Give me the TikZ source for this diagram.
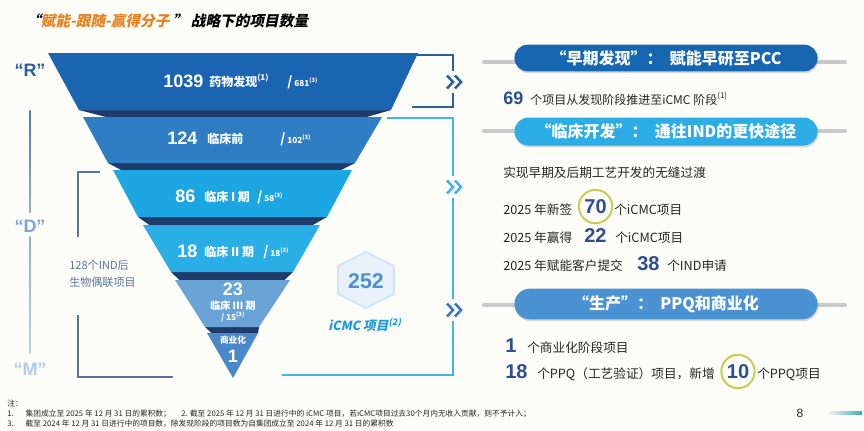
\documentclass[tikz,border=0pt]{standalone}
\usepackage{fontspec}
\setmainfont{Noto Sans CJK SC}
\newfontfamily\numfont{Liberation Sans}
\newfontfamily\slantfont[FakeSlant=0.2]{Noto Sans CJK SC}
\usetikzlibrary{shapes.misc,shadows}

\definecolor{bgpaper}{HTML}{FCFCF8}
\definecolor{layerA}{HTML}{1B64B2}
\definecolor{layerB}{HTML}{2F7EC4}
\definecolor{layerC}{HTML}{1CA6E2}
\definecolor{layerD}{HTML}{2AAEE6}
\definecolor{layerE}{HTML}{6AA3D5}
\definecolor{layerF}{HTML}{4A89C9}
\definecolor{foldnavy}{HTML}{1F3B6B}
\definecolor{bannerA}{HTML}{1766B2}
\definecolor{bannerB}{HTML}{2DADE6}
\definecolor{bannerC}{HTML}{4B92D2}
\definecolor{numblue}{HTML}{2F4E8E}
\definecolor{titleorange}{HTML}{E8801E}
\definecolor{ringolive}{HTML}{C6CF52}
\definecolor{brackgray}{HTML}{5E7696}
\definecolor{brackdark}{HTML}{2F5E9E}
\definecolor{brackcyan}{HTML}{45B5E2}
\definecolor{chevblue}{HTML}{3A76BF}
\definecolor{lineR}{HTML}{5577AA}
\definecolor{lineD}{HTML}{8FB0D8}
\definecolor{lineM}{HTML}{B5CFEB}
\definecolor{labD}{HTML}{7DA6D5}
\definecolor{labM}{HTML}{AFCBEA}
\definecolor{hexfill}{HTML}{E8F1FA}
\definecolor{hexline}{HTML}{D2E2F2}
\definecolor{hexnum}{HTML}{4C91CB}
\definecolor{icmccyan}{HTML}{1E9CD8}
\definecolor{textdark}{HTML}{262626}
\definecolor{railgray}{HTML}{C9C9C9}
\definecolor{logoteal}{HTML}{3FA9B5}

\newcommand{\fsz}[1]{\fontsize{#1}{#1}\selectfont}
% double chevron on a bracket: x, y, colour
\newcommand{\dblchev}[3]{%
  \fill[bgpaper] (#1-9,#2-11) rectangle (#1+10,#2+11);
  \draw[#3, line width=1.9pt] (#1-7,#2-6.5) -- (#1-1,#2) -- (#1-7,#2+6.5);
  \draw[#3, line width=1.9pt] (#1+1,#2-6.5) -- (#1+7,#2) -- (#1+1,#2+6.5);}

\tikzset{
  stagenum/.style={text=white, font=\numfont\bfseries\fsz{13.5}, inner sep=0pt, anchor=base west},
  stagelab/.style={text=white, font=\bfseries\fsz{9}, inner sep=0pt, anchor=base west},
  stageold/.style={text=white, font=\bfseries\fsz{6.2}, inner sep=0pt, anchor=base west},
  rdmtxt/.style={font=\numfont\bfseries\fsz{13.5}, inner sep=0pt, anchor=base},
  brackline/.style={brackgray, line width=1.1pt},
  banner/.style={rounded rectangle, minimum width=234pt, text=white, font=\bfseries\fsz{12},
    drop shadow={opacity=0.3, shadow xshift=0.6pt, shadow yshift=-1.4pt}},
  rail/.style={railgray, line width=3pt, line cap=round},
  bodytxt/.style={font=\fsz{9.5}, text=textdark, inner sep=0pt, anchor=base west},
  statnum/.style={font=\numfont\bfseries\fsz{15}, text=numblue, inner sep=0pt, anchor=base west},
  ringnum/.style={circle, draw=ringolive, line width=1.5pt, minimum size=25pt, inner sep=0pt,
    font=\numfont\bfseries\fsz{15}, text=numblue},
  notetxt/.style={font=\fsz{5.8}, text=textdark, inner sep=0pt, anchor=base west}
}

\begin{document}
\begin{tikzpicture}[x=0.75pt,y=0.75pt,yscale=-1,xscale=1]

\useasboundingbox (0,0) rectangle (864,430);
\fill[bgpaper] (0,0) rectangle (864,430);

% title
\node[font=\slantfont\bfseries\fsz{11}, inner sep=0pt, anchor=base west] (title) at (26,26)
  {“{\color{titleorange}赋能-跟随-赢得分子} ”\ 战略下的项目数量};

% R / D / M axis
\node[rdmtxt, text=brackdark] (labR) at (30,76) {“R”};
\node[rdmtxt, text=labD] (labD) at (30,232) {“D”};
\node[rdmtxt, text=labM] (labM) at (30,375) {“M”};
\shade[top color=lineR, bottom color=lineD] (29.3,110) rectangle (30.7,212);
\shade[top color=lineD, bottom color=lineM] (29.3,236) rectangle (30.7,353);

% bioconjugate bracket
\draw[brackline] (100,172) -- (78,172) -- (78,237);
\draw[brackline] (78,315) -- (78,377) -- (173,377);
\node[font=\fontsize{8.3}{12.8}\selectfont, text=brackgray, inner sep=0pt, anchor=west, align=left] (bioconj) at (69,274)
  {128个IND后\\生物偶联项目};

% right brackets
\draw[brackdark, line width=1.1pt] (416,55) -- (453,55) -- (453,107) -- (412,107);
\draw[brackcyan, line width=1.1pt] (387,118) -- (453,118) -- (453,375) -- (282,375);
\dblchev{454}{82}{brackdark}
\dblchev{454}{187}{brackcyan}
\dblchev{454}{310}{chevblue}

% funnel folds
\fill[foldnavy] (79,110) -- (391,110) -- (365,117.5) -- (108,117.5) -- cycle;
\fill[foldnavy] (108,163) -- (355,163) -- (340,170.5) -- (122,170.5) -- cycle;
\fill[foldnavy] (138,217) -- (327,217) -- (312,225.5) -- (150,225.5) -- cycle;
\fill[foldnavy] (171,272) -- (293,272) -- (284,280.5) -- (180,280.5) -- cycle;
\fill[foldnavy] (205,327) -- (259,327) -- (258,333.5) -- (212,333.5) -- cycle;
% funnel layers
\fill[layerA] (48,53) -- (418,53) -- (391,110) -- (79,110) -- cycle;
\fill[layerB] (83,117) -- (382,117) -- (355,163) -- (108,163) -- cycle;
\fill[layerC] (113,170) -- (352,170) -- (327,217) -- (138,217) -- cycle;
\fill[layerD] (143,225) -- (320,225) -- (293,272) -- (171,272) -- cycle;
\fill[layerE] (175,280) -- (290,280) -- (259,327) -- (205,327) -- cycle;
\fill[layerF] (207,333) -- (258,333) -- (233,378) -- cycle;

\node[stagenum] (numA) at (163,87) {1039};
\node[stagelab] (labA) at (209,86) {药物发现\textsuperscript{(1)}};
\node[stageold] (oldA) at (287,86) {{\fsz{10}/}\ 681\textsuperscript{(3)}};
\node[stagenum] (numB) at (167,144) {124};
\node[stagelab] (labB) at (207,143) {临床前};
\node[stageold] (oldB) at (280,143) {{\fsz{10}/}\ 102\textsuperscript{(3)}};
\node[stagenum] (numC) at (175,202) {86};
\node[stagelab] (labC) at (204,201) {临床 I 期};
\node[stageold] (oldC) at (257,201) {{\fsz{10}/}\ 58\textsuperscript{(3)}};
\node[stagenum] (numD) at (177,257) {18};
\node[stagelab] (labD) at (204,256) {临床 II 期};
\node[stageold] (oldD) at (263,256) {{\fsz{10}/}\ 18\textsuperscript{(3)}};
\node[stagenum, anchor=base] (numE) at (233,295) {23};
\node[stagelab, font=\bfseries\fsz{7.5}, anchor=base] (labE) at (233,309) {临床 III 期};
\node[stageold, anchor=base] (oldE) at (233,320) {/ 15\textsuperscript{(3)}};
\node[stagelab, font=\bfseries\fsz{6.5}, anchor=base] (labF) at (233,343) {商业化};
\node[stagenum, anchor=base] (numF) at (233,362) {1};

% iCMC badge
\filldraw[fill=hexfill, draw=hexline, line width=1.2pt] (366,252) -- (394,266) -- (394,294) -- (366,308) -- (338,294) -- (338,266) -- cycle;
\node[font=\numfont\bfseries\fsz{16}, text=hexnum, inner sep=0pt] (hexnum) at (366,281) {252};
\node[font=\slantfont\bfseries\fsz{9.5}, text=icmccyan, inner sep=0pt] (icmc) at (365,325) {iCMC 项目\textsuperscript{(2)}};

% right panel
\draw[rail] (484,62) -- (845,62);
\draw[rail] (484,131) -- (845,131);
\draw[rail] (484,305) -- (845,305);
\node[banner, fill=bannerA, minimum height=20pt] (banA) at (666,58) {“早期发现”：\ \ 赋能早研至PCC};
\node[banner, fill=bannerB, minimum height=21pt] (banB) at (666,131.5) {“临床开发”：\ \ 通往IND的更快途径};
\node[banner, fill=bannerC, minimum height=23pt] (banC) at (666,304) {“生产”：\ \ PPQ和商业化};

\node[statnum, font=\numfont\bfseries\fsz{13.5}] (n69) at (503,104) {69};
\node[bodytxt, font=\fsz{9}] (t69) at (530,104) {个项目从发现阶段推进至iCMC 阶段\textsuperscript{(1)}};

\node[bodytxt] (seam) at (503,177) {实现早期及后期工艺开发的无缝过渡};
\node[bodytxt] (sign) at (503,214) {2025 年新签};
\node[ringnum] (n70) at (595.5,206.5) {70};
\node[bodytxt] (signb) at (614,214) {个iCMC项目};
\node[bodytxt] (win) at (503,242) {2025 年赢得};
\node[statnum] (n22) at (584,242) {22};
\node[bodytxt] (winb) at (615,242) {个iCMC项目};
\node[bodytxt] (ind) at (503,270) {2025 年赋能客户提交};
\node[statnum] (n38) at (637,270) {38};
\node[bodytxt] (indb) at (667,270) {个IND申请};

\node[statnum] (n1) at (505,352) {1};
\node[bodytxt] (comm) at (527,352) {个商业化阶段项目};
\node[statnum] (n18) at (505,378) {18};
\node[bodytxt] (ppq) at (537,378) {个PPQ（工艺验证）项目，新增};
\node[ringnum] (n10) at (738,371.5) {10};
\node[bodytxt] (ppqb) at (757,378) {个PPQ项目};

% notes
\node[notetxt] (noteH) at (7,406) {注：};
\node[notetxt] (noteA) at (7,416) {1.\hspace{9pt}集团成立至 2025 年 12 月 31 日的累积数；};
\node[notetxt] (noteB) at (181,416) {2. 截至 2025 年 12 月 31 日进行中的 iCMC 项目，若iCMC项目过去30个月内无收入贡献，则不予计入；};
\node[notetxt] (noteC) at (7,426) {3.\hspace{9pt}截至 2024 年 12 月 31 日进行中的项目数，除发现阶段的项目数为自集团成立至 2024 年 12 月 31 日的累积数};
\node[font=\numfont\fsz{9}, text=textdark, inner sep=0pt] (pageno) at (800,413) {8};
\shade[left color=bgpaper, right color=logoteal] (826,411.5) rectangle (862,414.5);

\end{tikzpicture}
\end{document}
